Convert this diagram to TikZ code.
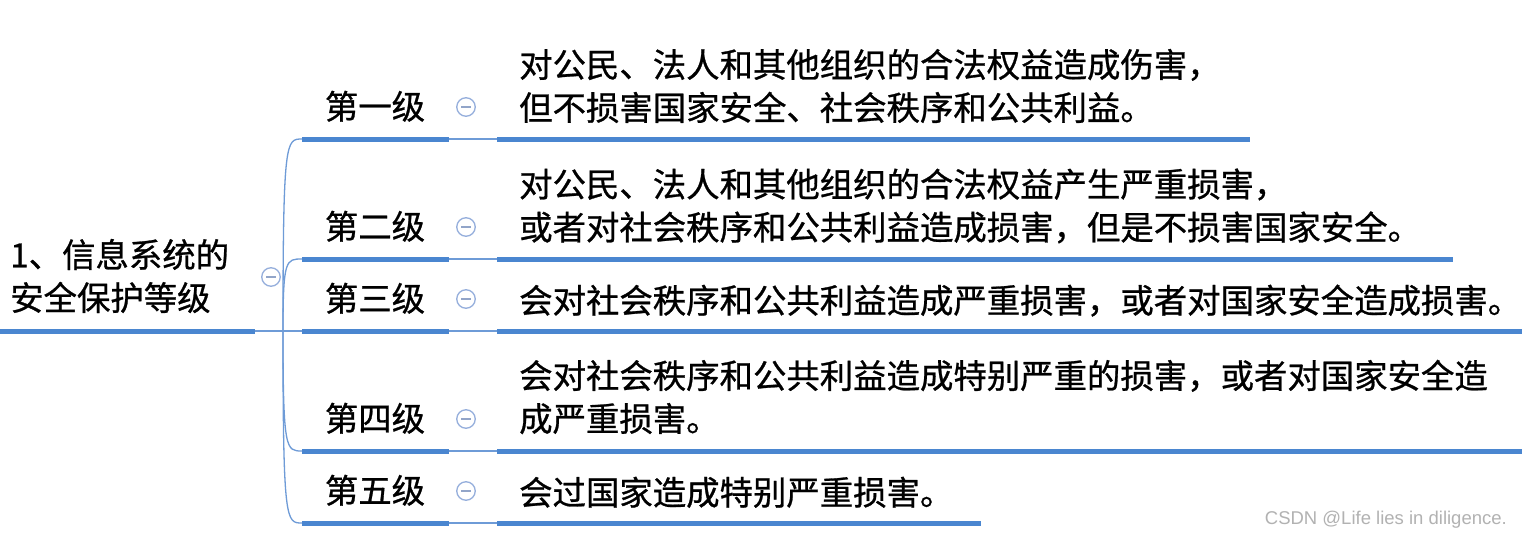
\documentclass[tikz,border=0pt]{standalone}
\usepackage{fontspec}
\setmainfont{Noto Sans CJK SC}[FakeBold=0.8]
\newfontfamily\wmfont{Liberation Sans}
\definecolor{ulcol}{RGB}{74,134,208}
\definecolor{lkcol}{RGB}{110,155,215}
\definecolor{ringcol}{RGB}{150,175,220}
\tikzset{
  txt/.style={inner sep=0pt, align=left, font=\fontsize{33.4}{43}\selectfont, text=black},
  uline/.style={draw=ulcol, line width=5pt},
  link/.style={draw=lkcol, line width=1.3pt},
  fold/.style={circle, draw=ringcol, line width=1.3pt, minimum size=18.5pt, inner sep=0pt,
    path picture={\draw[ringcol!80!gray, line width=1.4pt]
      ([xshift=-5pt]path picture bounding box.center) -- ([xshift=5pt]path picture bounding box.center);}},
  wmark/.style={inner sep=0pt, font=\wmfont\fontsize{18.5}{20}\selectfont, text=gray!60}
}
\begin{document}
\begin{tikzpicture}[x=1pt,y=-1pt]
\useasboundingbox[fill=white] (0,0) rectangle (1522,538);
% root
\node[txt, anchor=west] (root) at (10,276) {1、信息系统的\\安全保护等级};
\coordinate (r0) at (0,331);
\coordinate (r1) at (255,331);
\draw[uline] (r0) -- (r1);
\node[fold] (rf) at (271,277) {};
\coordinate (br) at (283,331);
\draw[link] (r1) -- (br);
% levels
\foreach \i/\y/\t in {1/139/第一级, 2/259/第二级, 3/331/第三级, 4/451/第四级, 5/523/第五级}{
  \coordinate (a\i) at (302,\y);
  \coordinate (b\i) at (449,\y);
  \coordinate (c\i) at (497,\y);
  \draw[uline] (a\i) -- (b\i);
  \draw[link] (b\i) -- (c\i);
  \node[txt, anchor=base] (l\i) at (375,\y-20) {\t};
  \node[fold] (f\i) at (466,\y-32) {};
}
\foreach \i/\y in {1/139, 2/259, 4/451, 5/523}{
  \draw[link] (br) .. controls (283,\y) and (286,\y) .. (a\i);
}
\draw[link] (br) -- (a3);
% descriptions
\coordinate (e1) at (1250,139);
\coordinate (e2) at (1453,259);
\coordinate (e3) at (1522,331);
\coordinate (e4) at (1522,451);
\coordinate (e5) at (981,523);
\foreach \i in {1,...,5}{\draw[uline] (c\i) -- (e\i);}
\node[txt, anchor=west] (d1) at (519,86) {对公民、法人和其他组织的合法权益造成伤害，\\但不损害国家安全、社会秩序和公共利益。};
\node[txt, anchor=west] (d2) at (519,206) {对公民、法人和其他组织的合法权益产生严重损害，\\或者对社会秩序和公共利益造成损害，但是不损害国家安全。};
\node[txt, anchor=base west] (d3) at (519,313) {会对社会秩序和公共利益造成严重损害，或者对国家安全造成损害。};
\node[txt, anchor=west] (d4) at (519,397) {会对社会秩序和公共利益造成特别严重的损害，或者对国家安全造\\成严重损害。};
\node[txt, anchor=base west] (d5) at (519,505) {会过国家造成特别严重损害。};
\node[wmark, anchor=base east] (wm) at (1507,524) {CSDN @Life lies in diligence.};
\end{tikzpicture}
\end{document}
